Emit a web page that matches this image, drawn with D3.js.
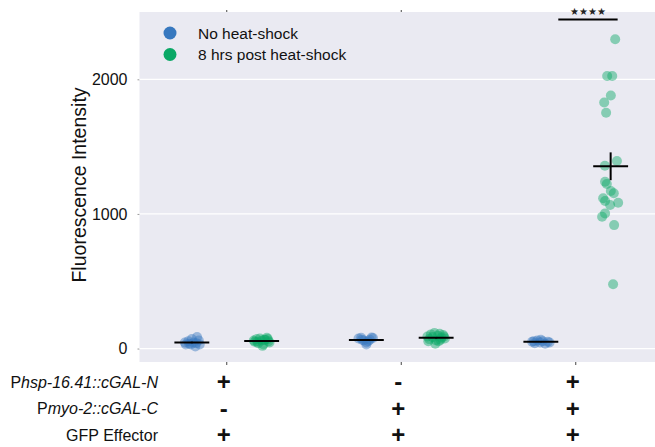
<!DOCTYPE html>
<meta charset="utf-8">
<script src="https://d3js.org/d3.v7.min.js"></script>
<body style="margin:0;background:#fff">
<div id="chart"></div>
</body>
<style>
text { font-family: "Liberation Sans", Arial, sans-serif; }
</style>
<script>

// groups (x categories) and hue levels
var groups = ["g1", "g2", "g3"]
var hues = ["No heat-shock", "8 hrs post heat-shock"]
var hueColors = ["#3778bf", "#0aa866"]

// genotype table under the axis
var rowNames = ["hsp-16.41::cGAL-N", "myo-2::cGAL-C", "GFP Effector"]
var rowPrefix = ["P", "P", ""]
var rowSigns = [["+", "-", "+"], ["-", "+", "+"], ["+", "+", "+"]]

var yTicks = [0, 1000, 2000]

// points per group/hue: values, jitter as fraction of category step
var g1NoHsVals = [30, 55, 30, 45, 85, 60, 45, 15, 70, 35, 40, 30]
var g1NoHsJit  = [-0.035, -0.02, -0.005, 0.01, 0.03, 0.04, -0.04, 0.02, 0.0, -0.015, 0.025, 0.045]
var g1HsVals = [50, 70, 40, 75, 60, 30, 65, 80, 55, 45, 60, 20, 50, 70, 65]
var g1HsJit  = [-0.04, -0.03, -0.02, -0.01, 0, 0.01, 0.02, 0.03, 0.04, 0.045, -0.045, 0.005, -0.025, 0.035, 0.015]
var g2NoHsVals = [75, 80, 60, 45, 30, 65, 82, 78, 55, 65]
var g2NoHsJit  = [-0.045, -0.03, -0.015, 0.0, 0.0, 0.02, 0.03, 0.038, 0.01, -0.025]
var g2HsVals = [90, 70, 105, 85, 115, 60, 95, 110, 80, 100, 75, 90, 55, 35, 55, 65]
var g2HsJit  = [-0.05, -0.04, -0.03, -0.02, -0.01, 0, 0.01, 0.02, 0.03, 0.04, 0.05, 0.045, -0.045, -0.005, 0.015, 0.025]
var g3NoHsVals = [50, 40, 60, 45, 55, 35, 50, 45, 65, 55]
var g3NoHsJit  = [-0.05, -0.035, -0.02, -0.005, 0.01, 0.025, 0.04, 0.05, 0.0, -0.04]
var g3HsVals = [2297, 2024, 2024, 1880, 1828, 1752, 1393, 1358, 1239, 1222, 1170, 1153, 1116, 1096, 1083, 1066, 1004, 979, 917, 477]
var g3HsJit  = [0.026, -0.02, 0.009, 0.001, -0.037, -0.026, 0.036, -0.033, -0.032, -0.022, 0.001, 0.018, -0.043, -0.032, 0.043, -0.003, -0.032, -0.049, 0.02, 0.014]

var sets = [
  {g: "g1", h: 0, v: g1NoHsVals, j: g1NoHsJit},
  {g: "g1", h: 1, v: g1HsVals, j: g1HsJit},
  {g: "g2", h: 0, v: g2NoHsVals, j: g2NoHsJit},
  {g: "g2", h: 1, v: g2HsVals, j: g2HsJit},
  {g: "g3", h: 0, v: g3NoHsVals, j: g3NoHsJit},
  {g: "g3", h: 1, v: g3HsVals, j: g3HsJit}
]

var W = 655, H = 447
var plot = {left: 139.5, right: 663, top: 12, bottom: 362}

var svg = d3.select("#chart").append("svg")
  .attr("width", W).attr("height", H)

var x = d3.scaleBand().domain(groups).range([plot.left, plot.right])
var step = x.step()
var xHue = d3.scalePoint().domain([0, 1]).range([-0.2 * step, 0.2 * step])
var y = d3.scaleLinear().domain([-100, 2500]).range([plot.bottom, plot.top])

function cx(g) { return x(g) + x.bandwidth() / 2 }

// background
svg.append("rect")
  .attr("x", plot.left).attr("y", plot.top)
  .attr("width", plot.right - plot.left).attr("height", plot.bottom - plot.top)
  .attr("fill", "#eaeaf2")

// y grid + axis
var yAxis = svg.append("g")
  .attr("transform", "translate(" + plot.left + ",0)")
  .call(d3.axisLeft(y).tickValues(yTicks).tickSize(2).tickPadding(10).tickFormat(d3.format("d")))
yAxis.select(".domain").remove()
yAxis.selectAll(".tick line").attr("stroke", "#999")
yAxis.selectAll(".tick text").attr("font-size", 16).attr("fill", "#111")
  .style("font-family", "'Liberation Sans', Arial, sans-serif")

svg.append("g").selectAll("line").data(yTicks).enter().append("line")
  .attr("x1", plot.left).attr("x2", plot.right)
  .attr("y1", function(d) { return y(d) }).attr("y2", function(d) { return y(d) })
  .attr("stroke", "#fff").attr("stroke-width", 1.2)

// small x ticks at top and bottom
var xb = svg.append("g").attr("transform", "translate(0," + plot.bottom + ")")
  .call(d3.axisBottom(x).tickSize(3).tickFormat(""))
xb.select(".domain").remove()
xb.selectAll(".tick line").attr("stroke", "#444")
var xt = svg.append("g").attr("transform", "translate(0," + plot.top + ")")
  .call(d3.axisTop(x).tickSize(2).tickFormat(""))
xt.select(".domain").remove()
xt.selectAll(".tick line").attr("stroke", "#444")

// y label
svg.append("text")
  .attr("transform", "translate(86,185) rotate(-90)")
  .attr("text-anchor", "middle")
  .attr("font-size", 19.5)
  .attr("fill", "#111")
  .text("Fluorescence Intensity")

// points
var pts = []
sets.forEach(function(s) {
  s.v.forEach(function(v, i) { pts.push({g: s.g, h: s.h, v: v, j: s.j[i]}) })
})
svg.append("g").selectAll("circle").data(pts).enter().append("circle")
  .attr("cx", function(d) { return cx(d.g) + xHue(d.h) + d.j * step })
  .attr("cy", function(d) { return y(d.v) })
  .attr("r", 5)
  .attr("fill", function(d) { return hueColors[d.h] })
  .attr("fill-opacity", 0.45)

// mean line + SEM bar
var stats = sets.map(function(s) {
  var m = d3.mean(s.v), sem = d3.deviation(s.v) / Math.sqrt(s.v.length)
  return {g: s.g, h: s.h, m: m, sem: sem}
})
var half = 0.1 * step
var st = svg.append("g")
st.selectAll(".mean").data(stats).enter().append("line")
  .attr("x1", function(d) { return cx(d.g) + xHue(d.h) - half })
  .attr("x2", function(d) { return cx(d.g) + xHue(d.h) + half })
  .attr("y1", function(d) { return y(d.m) }).attr("y2", function(d) { return y(d.m) })
  .attr("stroke", "#000").attr("stroke-width", 2)
st.selectAll(".sem").data(stats).enter().append("line")
  .attr("x1", function(d) { return cx(d.g) + xHue(d.h) })
  .attr("x2", function(d) { return cx(d.g) + xHue(d.h) })
  .attr("y1", function(d) { return y(d.m - d.sem) }).attr("y2", function(d) { return y(d.m + d.sem) })
  .attr("stroke", "#000").attr("stroke-width", 2)

// significance bar over group 3
var sx = cx("g3") + xHue(1)
svg.append("line")
  .attr("x1", sx - 0.3 * step).attr("x2", sx + 0.04 * step)
  .attr("y1", 19.5).attr("y2", 19.5)
  .attr("stroke", "#000").attr("stroke-width", 2)
svg.append("text")
  .attr("x", sx - 0.13 * step).attr("y", 15)
  .attr("text-anchor", "middle").attr("font-size", 10).attr("fill", "#222")
  .attr("font-family", "DejaVu Sans")
  .text("\u2605\u2605\u2605\u2605")

// legend
var lg = svg.append("g").attr("transform", "translate(170,33)")
hues.forEach(function(h, i) {
  lg.append("circle").attr("cx", 0).attr("cy", i * 21.5).attr("r", 6.5).attr("fill", hueColors[i])
  lg.append("text").attr("x", 28).attr("y", i * 21.5 + 5.5).attr("font-size", 15.5).attr("fill", "#111").text(h)
})

// genotype table
var rowY = [382, 408.5, 435]
rowNames.forEach(function(name, r) {
  var t = svg.append("text").attr("x", 158).attr("y", rowY[r] + 5.5)
    .attr("text-anchor", "end").attr("font-size", 16).attr("fill", "#111")
  if (rowPrefix[r]) {
    t.append("tspan").text(rowPrefix[r])
    t.append("tspan").attr("font-style", "italic").text(name)
  } else {
    t.text(name)
  }
  groups.forEach(function(g, c) {
    svg.append("text").attr("x", cx(g) - 3).attr("y", rowY[r] + 8)
      .attr("text-anchor", "middle").attr("font-size", 24).attr("font-weight", "bold")
      .attr("fill", "#111").text(rowSigns[r][c])
  })
})

</script>
